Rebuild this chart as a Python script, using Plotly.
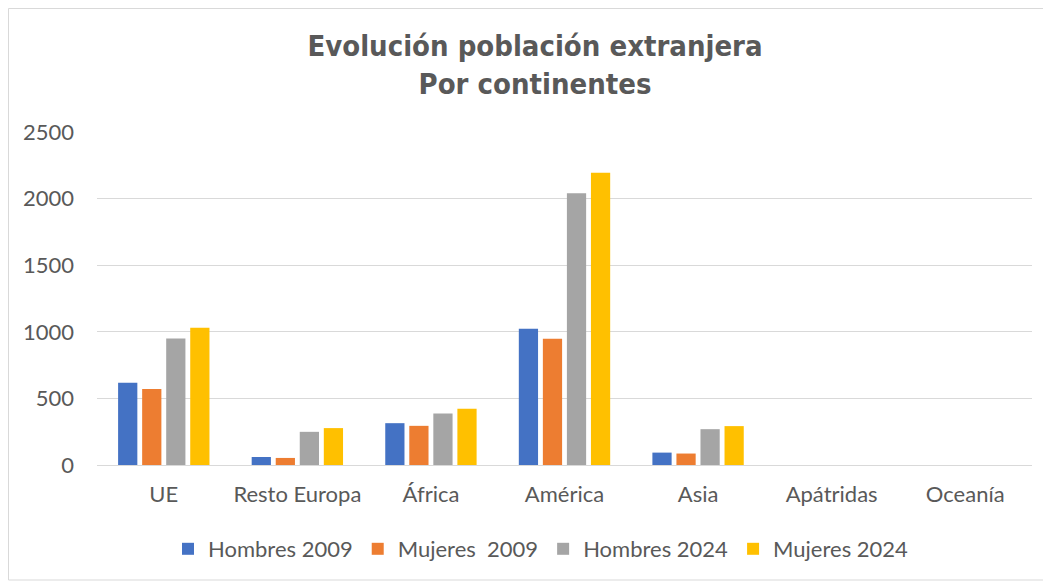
import plotly.graph_objects as go

categories = ["UE", "Resto Europa", "África", "América", "Asia", "Apátridas", "Oceanía"]
hombres_2009 = [618, 60, 314, 1022, 93, 0, 0]
mujeres_2009 = [571, 53, 294, 947, 86, 0, 0]
hombres_2024 = [950, 249, 387, 2041, 269, 0, 0]
mujeres_2024 = [1031, 277, 422, 2194, 292, 0, 0]

series = [
    ("Hombres 2009", hombres_2009, "#4472C4"),
    ("Mujeres\u00a0 2009", mujeres_2009, "#ED7D31"),
    ("Hombres 2024", hombres_2024, "#A5A5A5"),
    ("Mujeres 2024", mujeres_2024, "#FFC000"),
]

fig = go.Figure()
for name, vals, color in series:
    fig.add_trace(go.Bar(x=categories, y=vals, name=name, marker=dict(color=color, line=dict(width=0))))

# page has an 8px body margin; work in figure coordinates
W, H = 1043, 574
L, R, T, B = 89, 1024, 124, 457
pw, ph = R - L, B - T

def px(x):
    return (x - L) / pw

def py(y):
    return (B - y) / ph

fig.update_layout(
    width=W, height=H,
    margin=dict(l=L, r=W - R, t=T, b=H - B),
    paper_bgcolor="white", plot_bgcolor="white",
    barmode="group", bargap=0.28, bargroupgap=0.2,
    title=dict(
        text="Evolución población extranjera<br>Por continentes",
        x=527 / W, xref="container", xanchor="center", y=1 - 48 / H, yanchor="middle",
        font=dict(family="DejaVu Sans Condensed, DejaVu Sans, sans-serif", size=29, color="#595959", weight="bold"),
    ),
    font=dict(family="Lato, Noto Sans, sans-serif", size=22, color="#595959"),
    legend=dict(orientation="h", x=px(533), xanchor="center", y=py(541), yanchor="middle",
                font=dict(size=22, color="#595959"), itemwidth=30, traceorder="normal"),
    xaxis=dict(showgrid=False, showline=False, ticks="", ticklabelstandoff=14,
               tickfont=dict(size=22, color="#595959")),
    yaxis=dict(range=[0, 2500], dtick=500, showgrid=True, gridcolor="#D9D9D9", gridwidth=1,
               zeroline=True, zerolinecolor="#D9D9D9", zerolinewidth=1, showline=False, ticks="",
               ticklabelstandoff=22, tickfont=dict(size=22, color="#595959")),
    shapes=[dict(type="rect", xref="paper", yref="paper",
                 x0=px(0.5), x1=px(1041), y0=py(572), y1=py(0.5),
                 line=dict(color="#D9D9D9", width=1), fillcolor="rgba(0,0,0,0)", layer="below")],
)

fig.write_html("out.html")
